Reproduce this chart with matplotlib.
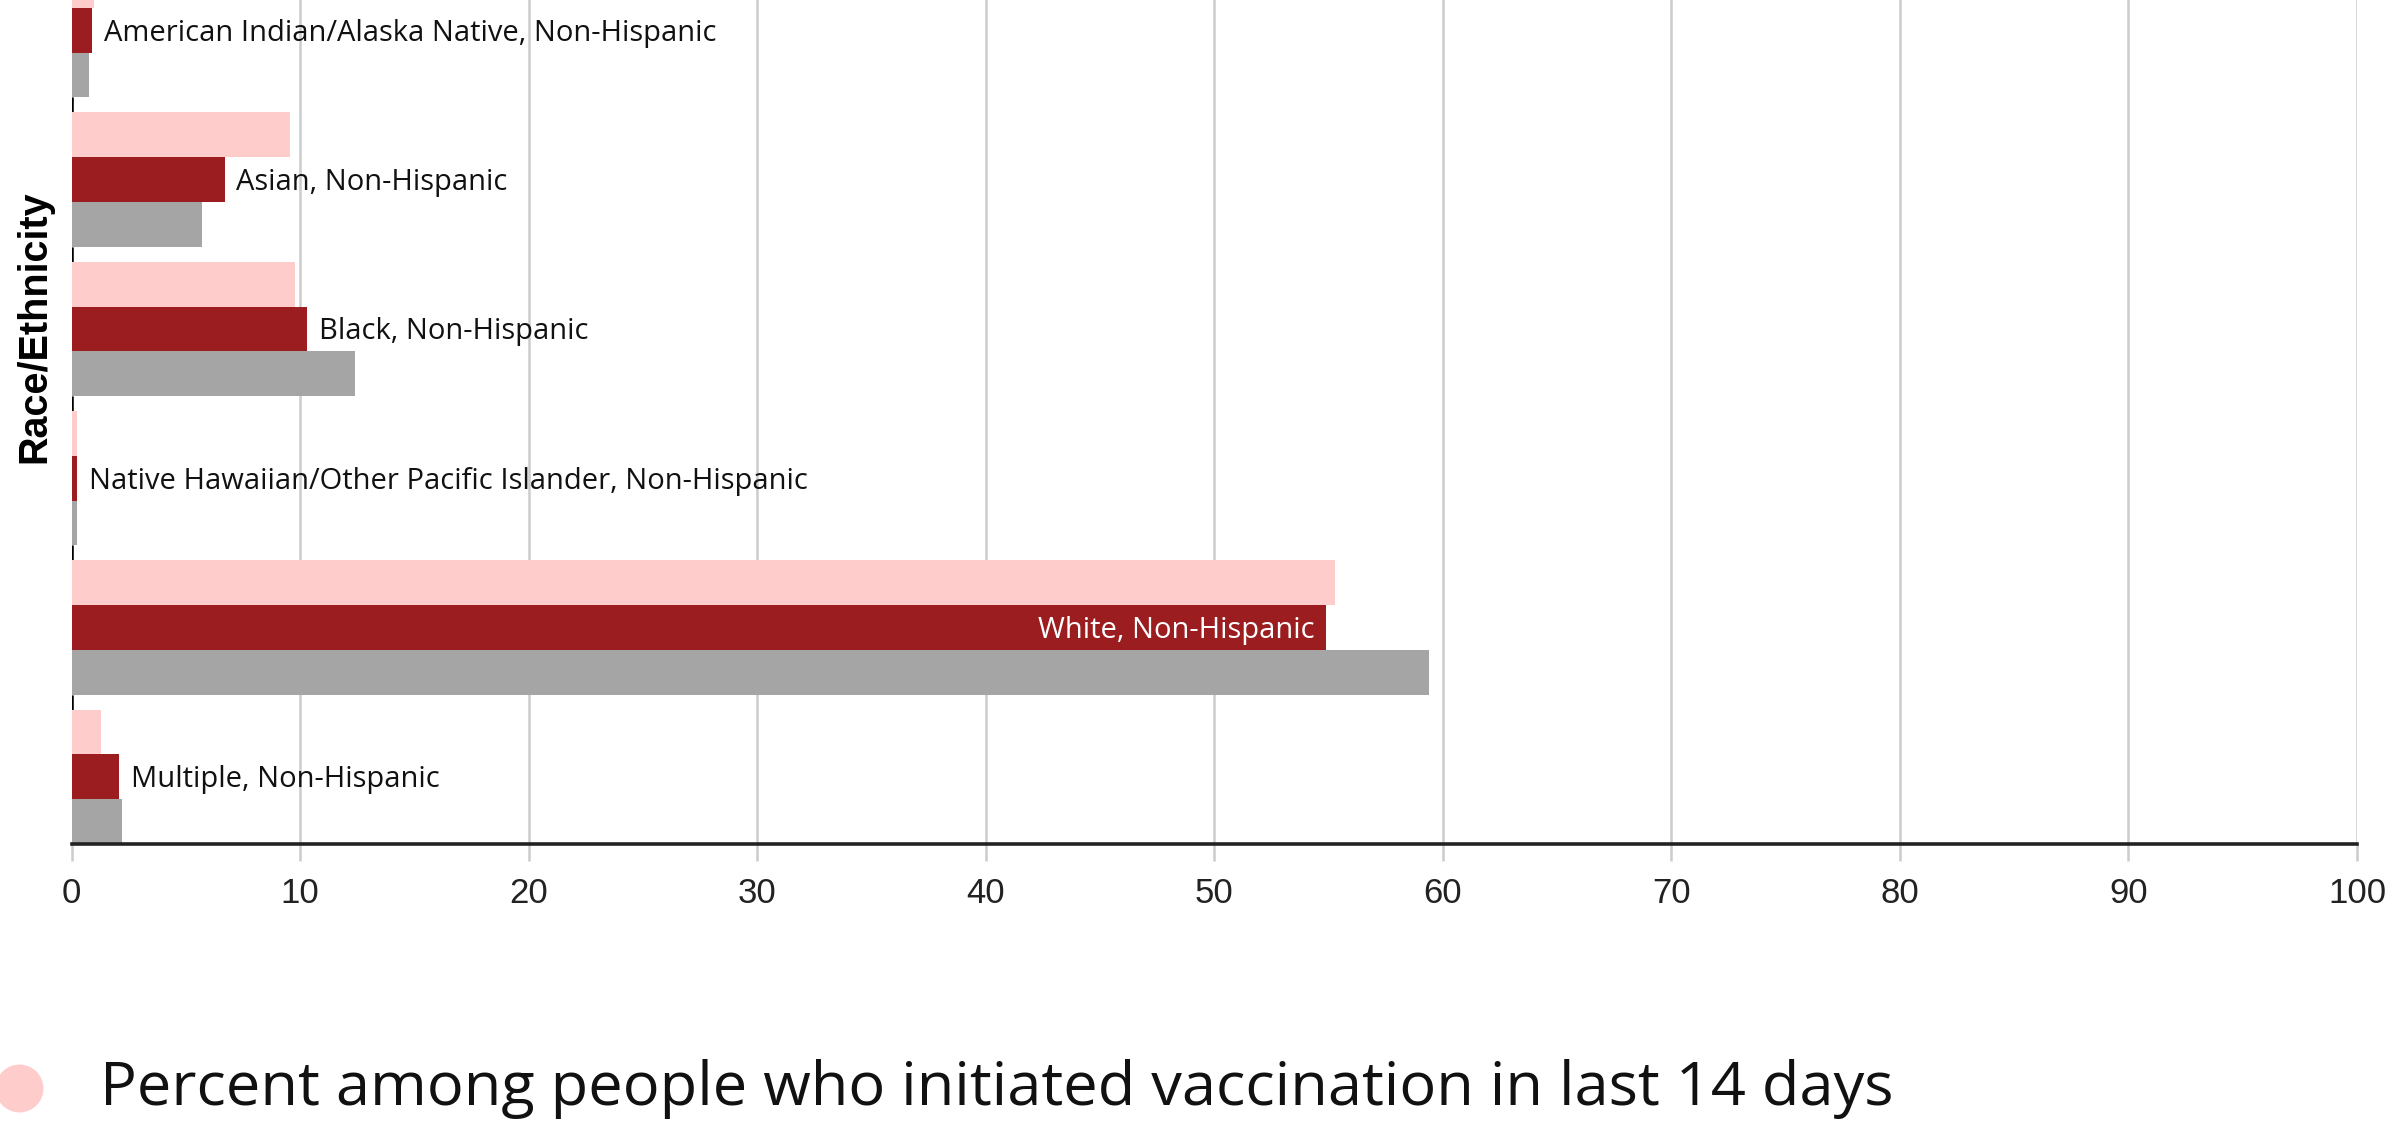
from matplotlib import pyplot as plt
from matplotlib.lines import Line2D

categories = [
    "American Indian/Alaska Native, Non-Hispanic",
    "Asian, Non-Hispanic",
    "Black, Non-Hispanic",
    "Native Hawaiian/Other Pacific Islander, Non-Hispanic",
    "White, Non-Hispanic",
    "Multiple, Non-Hispanic",
]
# pink series: initiated vaccination in last 14 days
pct_last14 = [1.0, 9.55, 9.8, 0.25, 55.3, 1.3]
# dark red series
pct_dose = [0.9, 6.7, 10.3, 0.25, 54.9, 2.1]
# grey series
pct_pop = [0.75, 5.7, 12.4, 0.25, 59.4, 2.2]

xticks = list(range(0, 101, 10))
legend_label = "Percent among people who initiated vaccination in last 14 days"
ylabel = "Race/Ethnicity"

PINK = "#FFCCCC"
RED = "#9B1D20"
GREY = "#A5A5A5"


def main():
    W, H = 2389, 1148
    fig = plt.figure(figsize=(W / 100, H / 100), dpi=100)
    ax = fig.add_axes([71.5 / W, 1 - 844 / H, (2357 - 71.5) / W, 844 / H])

    n = len(categories)
    base = [n - 1 - i for i in range(n)]
    bh = 0.3

    ax.barh([b + 0.75 for b in base], pct_last14, height=bh, color=PINK, zorder=3)
    ax.barh([b + 0.45 for b in base], pct_dose, height=bh, color=RED, zorder=3)
    ax.barh([b + 0.15 for b in base], pct_pop, height=bh, color=GREY, zorder=3)

    # labels next to the middle bar
    for i, cat in enumerate(categories):
        y = base[i] + 0.45
        if pct_dose[i] > 40:
            ax.annotate(cat, (pct_dose[i], y), xytext=(-8.5, -7.5),
                        textcoords="offset points", ha="right", va="baseline",
                        color="white", fontsize=21, family="Open Sans", zorder=5)
        else:
            ax.annotate(cat, (pct_dose[i], y), xytext=(8.5, -7.5),
                        textcoords="offset points", ha="left", va="baseline",
                        color="#111", fontsize=21, family="Open Sans", zorder=5)

    # left axis only shows in the gaps between groups
    for b in base[:-1]:
        ax.vlines(0, b, b - 0.1, color="black", lw=1.8, zorder=2)

    ax.set_xlim(0, 100)
    ax.set_ylim(0, 5.653)
    ax.set_xticks(xticks)
    ax.set_yticks([])
    ax.grid(axis="x", color="#CCCCCC", lw=1.8, zorder=0)
    ax.set_axisbelow(True)
    ax.tick_params(axis="x", length=12.2, width=1.8, color="#CCCCCC",
                   pad=11.5, labelsize=25, labelcolor="#222")
    for lab in ax.get_xticklabels():
        lab.set_family("Liberation Sans")

    for s in ["top", "right", "left"]:
        ax.spines[s].set_visible(False)
    ax.spines["bottom"].set_color("#222")
    ax.spines["bottom"].set_linewidth(2.6)
    ax.spines["bottom"].set_zorder(4)

    fig.text(34 / W, 1 - 327 / H, ylabel, rotation=90, ha="center", va="center",
             fontsize=28.5, fontweight="bold", family="Liberation Sans")

    # legend
    fig.add_artist(Line2D([19 / W], [1 - 1087.5 / H], marker="o", markersize=34.5,
                          color=PINK, markeredgewidth=0, transform=fig.transFigure))
    fig.text(100 / W, 1 - 1105 / H, legend_label, ha="left", va="baseline",
             fontsize=44.2, family="Open Sans", color="#111")

    fig.savefig("out.png", dpi=100)


if __name__ == '__main__':
    main()
